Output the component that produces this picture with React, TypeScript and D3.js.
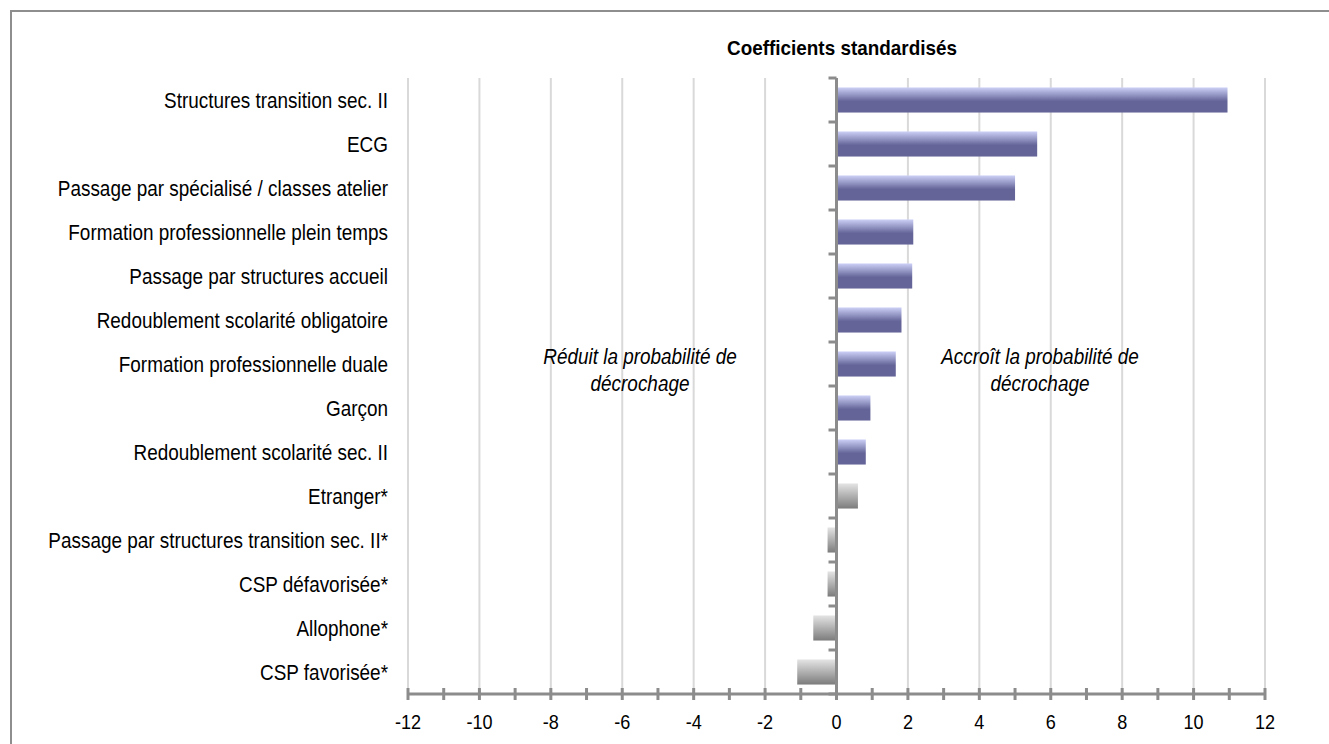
import React from 'react';
import * as d3 from 'd3';

const categories = [
  'Structures transition sec. II',
  'ECG',
  'Passage par spécialisé / classes atelier',
  'Formation professionnelle plein temps',
  'Passage par structures accueil',
  'Redoublement scolarité obligatoire',
  'Formation professionnelle duale',
  'Garçon',
  'Redoublement scolarité sec. II',
  'Etranger*',
  'Passage par structures transition sec. II*',
  'CSP défavorisée*',
  'Allophone*',
  'CSP favorisée*',
];

const values = [10.95, 5.62, 5.0, 2.15, 2.12, 1.82, 1.66, 0.95, 0.82, 0.6, -0.25, -0.25, -0.65, -1.1];

const xTicks = d3.range(-12, 13, 2);
const minorTicks = d3.range(-12, 13, 1);

const title = 'Coefficients standardisés';
const noteLeft = ['Réduit la probabilité de', 'décrochage'];
const noteRight = ['Accroît la probabilité de', 'décrochage'];

const W = 1329;
const H = 744;
const font = "'Liberation Sans', Arial, sans-serif";
const axisColor = '#8c8c8c';

// narrow text: real font is a bit condensed compared to Arial
const Txt: React.FC<{
  x: number; y: number; size: number; sx?: number; anchor?: string;
  weight?: string; italic?: boolean; children: React.ReactNode;
}> = ({ x, y, size, sx = 0.88, anchor = 'start', weight, italic, children }) => (
  <text
    transform={`translate(${x},${y}) scale(${sx},1)`}
    dy="0.35em"
    textAnchor={anchor}
    fontSize={size}
    fontWeight={weight}
    fontStyle={italic ? 'italic' : undefined}
    fill="#000"
  >
    {children}
  </text>
);

export default function App() {
  const x = d3.scaleLinear().domain([-12, 12]).range([408, 1265]);
  const y = d3.scaleBand<string>().domain(categories).range([78, 694]).paddingInner(0.43).paddingOuter(0.215);
  const step = y.step();
  const x0 = x(0);
  const top = 78;
  const bottom = 694;

  return (
    <svg width={W} height={H} style={{ position: 'absolute', left: 0, top: 0 }} fontFamily={font}>
      <defs>
        <linearGradient id="blueGrad" x1="0" y1="0" x2="0" y2="1">
          <stop offset="0%" stopColor="#ccd0f6" />
          <stop offset="55%" stopColor="#646498" />
          <stop offset="100%" stopColor="#646498" />
        </linearGradient>
        <linearGradient id="grayGrad" x1="0" y1="0" x2="0" y2="1">
          <stop offset="0%" stopColor="#e4e4e4" />
          <stop offset="100%" stopColor="#7c7c7c" />
        </linearGradient>
      </defs>
      <rect width={W} height={H} fill="#fff" />
      <rect x={11} y={11} width={W + 20} height={H + 20} fill="none" stroke="#8e8e8e" strokeWidth={2} />

      <Txt x={842} y={48} size={21} sx={0.9} anchor="middle" weight="bold">{title}</Txt>

      {xTicks.filter(t => t !== 0).map(t => (
        <line key={'g' + t} x1={x(t)} x2={x(t)} y1={top} y2={bottom} stroke="#d9d9d9" strokeWidth={2} />
      ))}

      {categories.map((c, i) => {
        const v = values[i];
        const star = c.endsWith('*');
        return (
          <rect
            key={c}
            x={Math.min(x(v), x0)}
            y={y(c)}
            width={Math.abs(x(v) - x0)}
            height={y.bandwidth()}
            fill={star ? 'url(#grayGrad)' : 'url(#blueGrad)'}
          />
        );
      })}

      {categories.map(c => (
        <Txt key={'l' + c} x={388} y={(y(c) ?? 0) + y.bandwidth() / 2} size={21.5} anchor="end">
          {c}
        </Txt>
      ))}

      <line x1={x0} x2={x0} y1={top} y2={bottom} stroke={axisColor} strokeWidth={3} />
      {d3.range(categories.length + 1).map(i => (
        <line key={'yt' + i} x1={x0 - 8} x2={x0} y1={top + i * step} y2={top + i * step} stroke={axisColor} strokeWidth={3} />
      ))}

      <line x1={x(-12)} x2={x(12)} y1={bottom} y2={bottom} stroke={axisColor} strokeWidth={3} />
      {minorTicks.map(t => (
        <line key={'xt' + t} x1={x(t)} x2={x(t)} y1={bottom - 6} y2={bottom + 6} stroke={axisColor} strokeWidth={3} />
      ))}
      {xTicks.map(t => (
        <Txt key={'xl' + t} x={x(t)} y={722} size={21} sx={0.86} anchor="middle">{t}</Txt>
      ))}

      <Txt x={640} y={356} size={21.5} anchor="middle" italic>{noteLeft[0]}</Txt>
      <Txt x={640} y={383} size={21.5} anchor="middle" italic>{noteLeft[1]}</Txt>
      <Txt x={1040} y={356} size={21.5} anchor="middle" italic>{noteRight[0]}</Txt>
      <Txt x={1040} y={383} size={21.5} anchor="middle" italic>{noteRight[1]}</Txt>
    </svg>
  );
}
